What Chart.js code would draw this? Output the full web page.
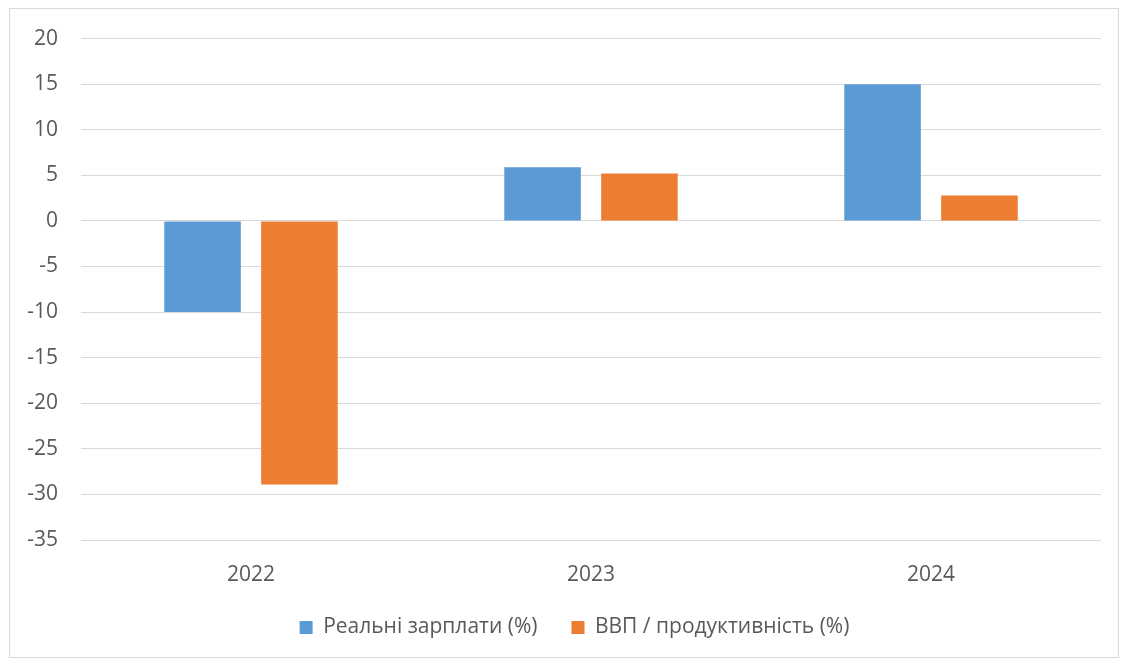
<!DOCTYPE html>
<html>
<head>
    <title>Реальні зарплати та ВВП</title>
    <style>
        body { margin: 0; background: #ffffff; }
        #frame {
            position: absolute;
            left: 9px;
            top: 8px;
            width: 1108px;
            height: 648px;
            border: 1px solid #d9d9d9;
            pointer-events: none;
        }
        #wrap {
            position: absolute;
            left: 10px;
            top: 3px;
            width: 1108px;
            height: 654px;
        }
    </style>
    <script src="https://cdn.jsdelivr.net/npm/chart.js"></script>
</head>
<body>
    <div id="frame"></div>
    <div id="wrap">
        <canvas id="wageChart"></canvas>
    </div>
    <script>
        // Data
        var years = ['2022', '2023', '2024'];
        var realWages = [-10, 5.9, 15];          // Реальні зарплати (%)
        var gdpProductivity = [-28.9, 5.2, 2.8]; // ВВП / продуктивність (%)
        var yMin = -35, yMax = 20, yStep = 5;

        var textColor = '#595959';
        var fontFamily = '"Open Sans", "Noto Sans", sans-serif';

        // legend sits a bit closer to the axis labels (and further right) than Chart.js puts it
        var moveLegend = {
            id: 'moveLegend',
            afterLayout: function (chart) {
                chart.legend.top -= 9;
                chart.legend.bottom -= 9;
                chart.legend.left += 19;
                chart.legend.right += 19;
            }
        };

        document.addEventListener("DOMContentLoaded", function () {
            var ctx = document.getElementById('wageChart').getContext('2d');
            var myChart = new Chart(ctx, {
                type: 'bar',
                data: {
                    labels: years,
                    datasets: [{
                        label: 'Реальні зарплати (%)',
                        data: realWages,
                        backgroundColor: '#5B9BD5',
                        borderWidth: 0
                    }, {
                        label: 'ВВП / продуктивність (%)',
                        data: gdpProductivity,
                        backgroundColor: '#ED7D31',
                        borderWidth: 0
                    }]
                },
                plugins: [moveLegend],
                options: {
                    responsive: true,
                    maintainAspectRatio: false,
                    animation: false,
                    datasets: {
                        bar: {
                            categoryPercentage: 0.57,
                            barPercentage: 0.79
                        }
                    },
                    layout: {
                        autoPadding: false,
                        padding: { top: 23, right: 17, bottom: 0, left: 0 }
                    },
                    plugins: {
                        tooltip: { enabled: false },
                        legend: {
                            position: 'bottom',
                            maxHeight: 69,
                            labels: {
                                color: textColor,
                                boxWidth: 13,
                                boxHeight: 13,
                                padding: 34,
                                font: { family: fontFamily, size: 21 }
                            }
                        }
                    },
                    scales: {
                        x: {
                            afterFit: function (scale) { scale.height = 52; },
                            grid: { display: false, drawTicks: false },
                            border: { display: false },
                            ticks: {
                                color: textColor,
                                padding: 22,
                                font: { family: fontFamily, size: 21 }
                            }
                        },
                        y: {
                            min: yMin,
                            max: yMax,
                            afterFit: function (scale) { scale.width = 71; },
                            grid: { color: '#d9d9d9', lineWidth: 1, drawTicks: false },
                            border: { display: false },
                            ticks: {
                                stepSize: yStep,
                                color: textColor,
                                padding: 23,
                                font: { family: fontFamily, size: 21 }
                            }
                        }
                    }
                }
            });
        });
    </script>
</body>
</html>
